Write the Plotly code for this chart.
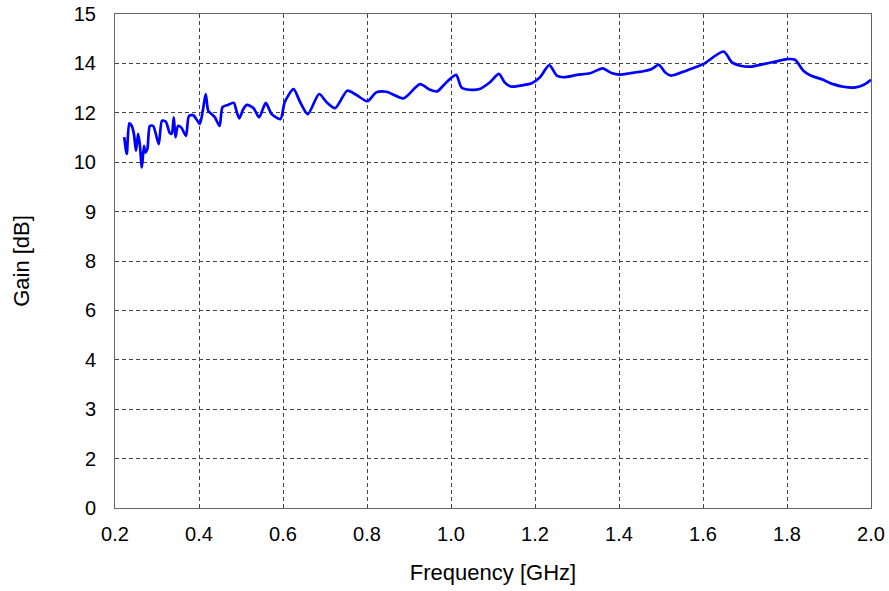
import plotly.graph_objects as go

freq_ghz = [0.222, 0.228, 0.234, 0.240, 0.245, 0.250, 0.255, 0.259, 0.264, 0.269, 0.272, 0.277, 0.283, 0.291,
            0.304, 0.312, 0.321, 0.330, 0.335, 0.340, 0.344, 0.350, 0.358, 0.369, 0.376, 0.386, 0.396, 0.402,
            0.409, 0.416, 0.422, 0.430, 0.438, 0.449, 0.456, 0.469, 0.483, 0.489, 0.496, 0.505, 0.514, 0.530,
            0.543, 0.559, 0.573, 0.594, 0.604, 0.625, 0.641, 0.659, 0.686, 0.704, 0.724, 0.753, 0.775, 0.801,
            0.822, 0.846, 0.887, 0.926, 0.950, 0.967, 0.987, 1.012, 1.025, 1.045, 1.068, 1.092, 1.114, 1.128,
            1.142, 1.172, 1.192, 1.212, 1.234, 1.252, 1.268, 1.300, 1.331, 1.361, 1.382, 1.402, 1.426, 1.458,
            1.478, 1.495, 1.509, 1.524, 1.560, 1.577, 1.601, 1.649, 1.669, 1.689, 1.712, 1.744, 1.775, 1.799,
            1.819, 1.839, 1.854, 1.886, 1.910, 1.934, 1.963, 1.983, 2.000]
gain_db = [11.26, 10.75, 11.68, 11.60, 11.36, 10.85, 11.36, 11.05, 10.34, 11.00, 10.80, 10.90, 11.60, 11.60,
           11.05, 11.76, 11.73, 11.40, 11.36, 11.86, 11.26, 11.60, 11.55, 11.30, 11.90, 11.93, 11.76, 11.66,
           12.06, 12.57, 12.06, 11.96, 11.86, 11.60, 12.17, 12.24, 12.30, 12.06, 11.83, 12.10, 12.24, 12.14,
           11.86, 12.30, 11.96, 11.81, 12.32, 12.72, 12.32, 11.96, 12.57, 12.32, 12.14, 12.67, 12.54, 12.35,
           12.62, 12.64, 12.44, 12.87, 12.70, 12.65, 12.90, 13.15, 12.77, 12.70, 12.72, 12.92, 13.18, 12.92,
           12.80, 12.84, 12.90, 13.08, 13.45, 13.13, 13.08, 13.15, 13.20, 13.35, 13.21, 13.16, 13.20, 13.26,
           13.33, 13.46, 13.24, 13.13, 13.28, 13.36, 13.48, 13.86, 13.53, 13.43, 13.40, 13.48, 13.56, 13.63,
           13.61, 13.28, 13.15, 13.00, 12.87, 12.79, 12.77, 12.85, 13.00]

x_ticks = [0.2, 0.4, 0.6, 0.8, 1.0, 1.2, 1.4, 1.6, 1.8, 2.0]
x_tick_labels = ["0.2", "0.4", "0.6", "0.8", "1.0", "1.2", "1.4", "1.6", "1.8", "2.0"]
y_ticks = [0, 1.5, 3, 4.5, 6, 7.5, 9, 10.5, 12, 13.5, 15]
y_tick_labels = ["0", "2", "3", "4", "6", "8", "9", "10", "12", "14", "15"]

fig = go.Figure()
fig.add_trace(go.Scatter(x=freq_ghz, y=gain_db, mode="lines",
                         line=dict(color="#0000FF", width=2.7, shape="spline", smoothing=0.7),
                         showlegend=False))

font = "Liberation Sans, Arial, sans-serif"
fig.update_layout(
    width=889, height=591,
    margin=dict(l=115, r=18, t=14, b=83),
    paper_bgcolor="white", plot_bgcolor="white",
    font=dict(family=font, color="black"),
    xaxis=dict(range=[0.2, 2.0], tickvals=x_ticks, ticktext=x_tick_labels,
               tickfont=dict(size=20), showgrid=True, gridcolor="#444444", gridwidth=1,
               griddash="4px,3px", zeroline=False, showline=True, linecolor="#666666",
               linewidth=1, mirror=True, ticks="", ticklabelstandoff=8, automargin=False,
               title=dict(text="Frequency [GHz]", font=dict(size=22), standoff=20)),
    yaxis=dict(range=[0, 15], tickvals=y_ticks, ticktext=y_tick_labels,
               tickfont=dict(size=20), showgrid=True, gridcolor="#444444", gridwidth=1,
               griddash="4px,3px", zeroline=False, showline=True, linecolor="#666666",
               linewidth=1, mirror=True, ticks="", ticklabelstandoff=14, automargin=False,
               title=dict(text="Gain [dB]", font=dict(size=22), standoff=38)),
)

fig.write_html("out.html")
